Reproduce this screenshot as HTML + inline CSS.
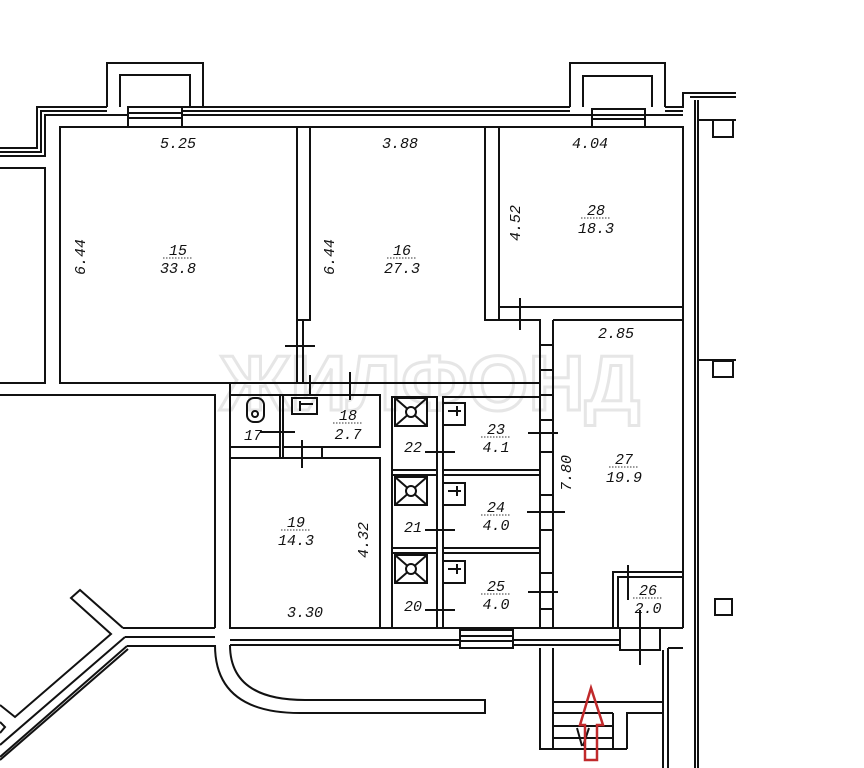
<!DOCTYPE html>
<html><head><meta charset="utf-8"><style>
html,body{margin:0;padding:0;background:#fff;}
svg{display:block;}
text{font-family:"Liberation Mono",monospace;font-style:italic;font-size:15px;fill:#111;}
</style></head><body>
<svg width="864" height="768" viewBox="0 0 864 768" xmlns="http://www.w3.org/2000/svg">
<text x="430" y="410" text-anchor="middle" style="font-family:'Liberation Sans',sans-serif;font-style:normal;font-weight:bold;font-size:78px;fill:none;stroke:#e6e6e6;stroke-width:3">ЖИЛФОНД</text>
<g fill="none" stroke="#111" stroke-width="2">
<!-- top outer wall -->
<path d="M0 148 H37 V107 H107"/>
<path d="M0 152 H41 V111 H107"/>
<path d="M0 156 H45 V115 H128"/>
<path d="M183 107 H570 M183 111 H570 M182 115 H592"/>
<path d="M665 107 H683 V93 H736"/>
<path d="M665 111 H683"/>
<path d="M645 115 H683"/>
<path d="M690 97 H736"/>
<!-- balconies -->
<path d="M107 107 V63 H203 V107"/>
<path d="M120 107 V75 H190 V107"/>
<rect x="128" y="107" width="54" height="20"/>
<path d="M128 113 H182 M128 118 H182"/>
<path d="M570 107 V63 H665 V107"/>
<path d="M583 107 V76 H652 V107"/>
<rect x="592" y="109" width="53" height="18"/>
<path d="M592 115 H645 M592 119 H645"/>
<!-- right outer wall -->
<path d="M683 127 V628 M695 100 V768 M698 100 V768"/>
<path d="M698 120 H736 M698 360 H736"/>
<rect x="713" y="120" width="20" height="17"/>
<rect x="713" y="361" width="20" height="16"/>
<rect x="715" y="599" width="17" height="16"/>
<!-- left block -->
<path d="M0 168 H45 V383 H0"/>
<!-- room 15 -->
<rect x="60" y="127" width="237" height="256"/>
<rect x="297" y="127" width="13" height="193"/>
<path d="M297 320 V383 M303 320 V383"/>
<path d="M285 346 H315"/>
<!-- room 16 -->
<path d="M310 127 H485 V320 H540 V383"/>
<path d="M499 127 V307 H683"/>
<path d="M310 383 H540"/>
<rect x="485" y="127" width="14" height="193"/>
<path d="M520 298 V330"/>
<!-- room 28 -->
<rect x="499" y="127" width="184" height="180"/>
<!-- room 27 -->
<path d="M553 320 H683 M553 320 V628 M540 320 V628"/>
<path d="M540 345 H553 M540 370 H553 M540 395 H553 M540 420 H553 M540 452 H553 M540 495 H553 M540 530 H553 M540 573 H553 M540 609 H553"/>
<!-- corridor wall row -->
<path d="M0 395 H215 V628"/>
<path d="M230 383 H540 M230 395 H380 M230 383 V628"/>
<!-- 17/18 -->
<path d="M230 447 H280 V395 M283 395 V458 M280 447 V458"/>
<rect x="283" y="395" width="97" height="52"/>
<path d="M230 458 H380 M322 447 V458"/>
<path d="M310 375 V395 M350 372 V400"/>
<path d="M302 440 V468"/>
<path d="M260 432 H295 M283 426 V440"/>
<rect x="247" y="398" width="17" height="24" rx="7"/>
<circle cx="255" cy="414" r="3"/>
<rect x="292" y="398" width="25" height="16"/>
<path d="M300 404 H313 M300 401 V411"/>
<!-- 19 -->
<rect x="230" y="458" width="150" height="170"/>
<!-- 20-25 -->
<rect x="392" y="397" width="45" height="231"/>
<path d="M437 397 V628 M443 397 V628 M392 470 H437 M392 475 H437 M392 548 H437 M392 553 H437"/>
<rect x="443" y="397" width="97" height="73"/>
<rect x="443" y="475" width="97" height="73"/>
<rect x="443" y="553" width="97" height="75"/>
<rect x="395" y="398" width="32" height="28"/><path d="M395 398 L427 426 M427 398 L395 426"/><circle cx="411" cy="412" r="5" fill="#fff"/>
<rect x="395" y="477" width="32" height="28"/><path d="M395 477 L427 505 M427 477 L395 505"/><circle cx="411" cy="491" r="5" fill="#fff"/>
<rect x="395" y="555" width="32" height="28"/><path d="M395 555 L427 583 M427 555 L395 583"/><circle cx="411" cy="569" r="5" fill="#fff"/>
<rect x="443" y="403" width="22" height="22"/><path d="M448 411 H461 M457 406 V416"/>
<rect x="443" y="483" width="22" height="22"/><path d="M448 491 H461 M457 486 V496"/>
<rect x="443" y="561" width="22" height="22"/><path d="M448 569 H461 M457 564 V574"/>
<path d="M425 452 H455 M425 530 H455 M425 610 H455"/>
<path d="M528 433 H558 M527 512 H565 M528 592 H558"/>
<!-- room 26 -->
<path d="M613 628 V572 H683 M618 628 V577 H683"/>
<path d="M628 565 V600 M640 610 V665"/>
<!-- bottom wall -->
<path d="M123 628 H215 M230 628 H683"/>
<path d="M125 637 H215 M230 640 H460 M513 640 H620"/>
<path d="M127 646 H215 M230 645 H460 M513 645 H620"/>
<rect x="460" y="630" width="53" height="18"/>
<path d="M460 636 H513 M460 641 H513"/>
<path d="M620 628 V650 H660 V628"/>
<path d="M663 650 V768 M668 648 H683 M668 648 V768"/>
<!-- stairs -->
<path d="M540 648 V749 H627 M553 648 V749"/>
<path d="M553 702 H663 M553 713 H613 M553 726 H613 M553 738 H613 M613 749 V713 M627 749 V713 H663"/>
<path d="M577 728 L582 746 M589 728 L583 746"/>
<!-- curve -->
<path d="M215 645 Q215 713 300 713 H485 V700 H305 Q230 700 230 645"/>
<!-- diagonal left -->
<path d="M123 628 L80 590 L71 598 L111 634 L15 717 L0 705"/>
<path d="M125 637 L0 745"/>
<path d="M127 646 L0 757"/>
<path d="M128 649 L0 760"/>
<path d="M0 722 L5 727 L0 733"/>
</g>
<!-- red arrow -->
<path d="M591 688 L580 725 H585 V760 H597 V725 H603 Z" fill="none" stroke="#c0292b" stroke-width="2.5"/>
<!-- labels -->
<text x="178" y="148" text-anchor="middle">5.25</text>
<text x="400" y="148" text-anchor="middle">3.88</text>
<text x="590" y="148" text-anchor="middle">4.04</text>
<text x="616" y="338" text-anchor="middle">2.85</text>
<text x="85" y="257" text-anchor="middle" transform="rotate(-90 85 257)">6.44</text>
<text x="334" y="257" text-anchor="middle" transform="rotate(-90 334 257)">6.44</text>
<text x="520" y="223" text-anchor="middle" transform="rotate(-90 520 223)">4.52</text>
<text x="571" y="473" text-anchor="middle" transform="rotate(-90 571 473)">7.80</text>
<text x="368" y="540" text-anchor="middle" transform="rotate(-90 368 540)">4.32</text>
<text x="305" y="617" text-anchor="middle">3.30</text>
<g text-anchor="middle">
<text x="178" y="255">15</text><text x="178" y="273">33.8</text>
<text x="402" y="255">16</text><text x="402" y="273">27.3</text>
<text x="596" y="215">28</text><text x="596" y="233">18.3</text>
<text x="624" y="464">27</text><text x="624" y="482">19.9</text>
<text x="348" y="420">18</text><text x="348" y="439">2.7</text>
<text x="296" y="527">19</text><text x="296" y="545">14.3</text>
<text x="496" y="434">23</text><text x="496" y="452">4.1</text>
<text x="496" y="512">24</text><text x="496" y="530">4.0</text>
<text x="496" y="591">25</text><text x="496" y="609">4.0</text>
<text x="648" y="595">26</text><text x="648" y="613">2.0</text>
<text x="253" y="440">17</text>
<text x="413" y="452">22</text>
<text x="413" y="532">21</text>
<text x="413" y="611">20</text>
</g>
<g stroke="#333" stroke-width="1" stroke-dasharray="1.5 1.5">
<line x1="163" y1="258" x2="193" y2="258"/><line x1="387" y1="258" x2="417" y2="258"/>
<line x1="581" y1="218" x2="611" y2="218"/><line x1="609" y1="467" x2="639" y2="467"/>
<line x1="333" y1="423" x2="363" y2="423"/><line x1="281" y1="530" x2="311" y2="530"/>
<line x1="481" y1="437" x2="511" y2="437"/><line x1="481" y1="515" x2="511" y2="515"/>
<line x1="481" y1="594" x2="511" y2="594"/><line x1="633" y1="598" x2="663" y2="598"/>
</g>
</svg>
</body></html>
